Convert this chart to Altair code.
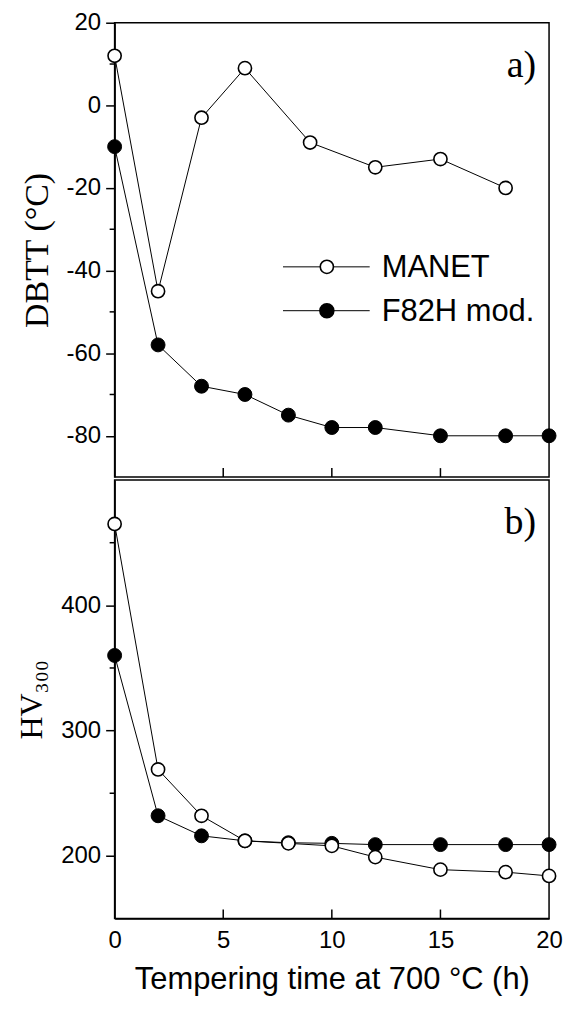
import altair as alt
import pandas as pd

# ---------------- data ----------------
time_manet_a = [0, 2, 4, 6, 9, 12, 15, 18]
dbtt_manet = [12, -45, -3, 9, -9, -15, -13, -20]
time_f82h_a = [0, 2, 4, 6, 8, 10, 12, 15, 18, 20]
dbtt_f82h = [-10, -58, -68, -70, -75, -78, -78, -80, -80, -80]

time_b = [0, 2, 4, 6, 8, 10, 12, 15, 18, 20]
hv_manet = [465, 269, 232, 212, 210, 208, 199, 189, 187, 184]
hv_f82h = [360, 232, 216, 212, 210.5, 210, 209, 209, 209, 209]

series_names = ["MANET", "F82H mod."]
series_fill = ["white", "black"]

x_ticks = [0, 5, 10, 15, 20]
x_inner_ticks = [5, 10, 15]
ya_ticks = [20, 0, -20, -40, -60, -80]
ya_minor = [10, -10, -30, -50, -70]
yb_ticks = [200, 300, 400]
yb_minor = [450, 350, 250]

# ---------------- style ----------------
SANS = "Liberation Sans, Arial, Helvetica, sans-serif"
SERIF = "Liberation Serif, Times New Roman, DejaVu Serif, serif"
W = 436
HA = 456
HB = 440
MS = 175
HYPHEN = "replace(datum.label, '\u2212', '-')"

xscale = alt.Scale(domain=[0, 20], nice=False, zero=False)
ya_scale = alt.Scale(domain=[-90, 20], nice=False, zero=False)
yb_scale = alt.Scale(domain=[150, 500], nice=False, zero=False)

df_ma = pd.DataFrame({"t": time_manet_a, "v": dbtt_manet})
df_fa = pd.DataFrame({"t": time_f82h_a, "v": dbtt_f82h})
df_mb = pd.DataFrame({"t": time_b, "v": hv_manet})
df_fb = pd.DataFrame({"t": time_b, "v": hv_f82h})


def panel(df_m, df_f, yscale, yaxis, xaxis, h, minor, label):
    x_enc = alt.X("t:Q", scale=xscale, axis=xaxis)
    y_enc = alt.Y("v:Q", scale=yscale, axis=yaxis)

    line_f = alt.Chart(df_f).mark_line(color="black", strokeWidth=1).encode(x=x_enc, y=y_enc)
    line_m = alt.Chart(df_m).mark_line(color="black", strokeWidth=1).encode(x=x_enc, y=y_enc)
    pts_f = alt.Chart(df_f).mark_circle(size=MS + 20, fill="black", stroke="black",
                                        strokeWidth=1, opacity=1).encode(x=x_enc, y=y_enc)
    pts_m = alt.Chart(df_m).mark_circle(size=MS, fill="white", stroke="black",
                                        strokeWidth=1.6, opacity=1).encode(x=x_enc, y=y_enc)

    minor_df = pd.DataFrame({"v": minor})
    minor_r = alt.Chart(minor_df).mark_rule(color="black", strokeWidth=1.5).encode(
        y=y_enc, x=alt.value(-5), x2=alt.value(0))

    tick_df = pd.DataFrame({"t": x_inner_ticks})
    tick_r = alt.Chart(tick_df).mark_rule(color="black", strokeWidth=1.5).encode(
        x=x_enc, y=alt.value(h - 9), y2=alt.value(h))

    lab = alt.Chart(pd.DataFrame({"s": [label]})).mark_text(
        font=SERIF, fontSize=38, align="right", baseline="alphabetic", color="black"
    ).encode(text="s:N", x=alt.value(423), y=alt.value(54))

    return [line_f, line_m, pts_f, pts_m, minor_r, tick_r, lab]


top_layers = panel(
    df_ma, df_fa, ya_scale,
    alt.Axis(values=ya_ticks, title="DBTT (°C)", titlePadding=12, titleFont=SERIF,
             titleFontSize=34, labelExpr=HYPHEN),
    None, HA, ya_minor, "a)")

# legend inside panel a
leg_rows = []
for i, (name, fill) in enumerate(zip(series_names, series_fill)):
    d = pd.DataFrame({"s": [name]})
    ypix = 245 + i * 44
    leg_rows.append(alt.Chart(d).mark_rule(color="black", strokeWidth=1).encode(
        x=alt.value(169), x2=alt.value(256), y=alt.value(ypix)))
    leg_rows.append(alt.Chart(d).mark_circle(size=MS if fill == "white" else MS + 20, fill=fill,
                                             stroke="black", strokeWidth=1.6, opacity=1).encode(
        x=alt.value(213), y=alt.value(ypix)))
    leg_rows.append(alt.Chart(d).mark_text(font=SANS, fontSize=31, align="left",
                                           baseline="middle", color="black").encode(
        text="s:N", x=alt.value(268), y=alt.value(ypix + 1)))

top = alt.layer(*(top_layers + leg_rows)).properties(width=W, height=HA)

bottom_layers = panel(
    df_mb, df_fb, yb_scale,
    alt.Axis(values=yb_ticks, title="HV₃₀₀", titlePadding=12, titleFont=SERIF,
             titleFontSize=32),
    alt.Axis(values=x_ticks, ticks=False, labelPadding=10, labelFlush=False,
             title="Tempering time at 700 °C (h)", titleFont=SANS, titleFontSize=31,
             titlePadding=12),
    HB, yb_minor, "b)")
bottom = alt.layer(*bottom_layers).properties(width=W, height=HB)

chart = alt.vconcat(top, bottom, spacing=0).properties(
    padding={"left": 7, "top": 0, "right": 0, "bottom": 0}
).configure_view(stroke="black", strokeWidth=1.5).configure_axis(
    grid=False,
    domainColor="black", domainWidth=1.5,
    tickColor="black", tickWidth=1.5, tickSize=9,
    labelColor="black", labelFont=SANS, labelFontSize=24, labelPadding=5,
    titleColor="black", titleFontWeight="normal",
)

chart.save("out.html", embed_options={"renderer": "svg", "actions": False})
